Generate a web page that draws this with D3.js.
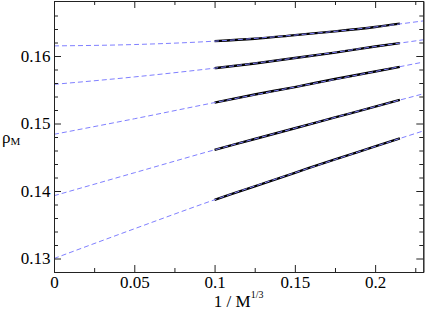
<!DOCTYPE html>
<html>
<head>
<meta charset="utf-8">
<script src="https://cdn.jsdelivr.net/npm/d3@7"></script>
<style>
body{margin:0;background:#fff;}
</style>
</head>
<body>
<div id="chart"></div>
<script>
// fit curves (dashed), sampled along 1/M^(1/3)
var fitX=[0,0.05,0.1,0.15,0.2,0.23];
var fit1=[0.1615,0.1617,0.1622,0.1631,0.1643,0.1652];
var fit2=[0.1558,0.1569,0.1582,0.1597,0.1614,0.1624];
var fit3=[0.1484,0.1507,0.1531,0.1554,0.1577,0.1591];
var fit4=[0.1393,0.1427,0.1461,0.1493,0.1525,0.1544];
var fit5=[0.1300,0.1344,0.1387,0.1427,0.1466,0.1489];

// simulation data (black), M from 1000 down to 100
var dataX=[0.1,0.125,0.15,0.175,0.2,0.2154];
var data1=[0.1622,0.16255,0.1631,0.16365,0.1643,0.1648];
var data2=[0.1582,0.1589,0.1597,0.1605,0.1614,0.1619];
var data3=[0.1531,0.1543,0.1554,0.1566,0.1577,0.1584];
var data4=[0.1461,0.1477,0.1493,0.1509,0.1525,0.1535];
var data5=[0.1387,0.1407,0.1427,0.1447,0.1466,0.1478];

var xTicks=[0,0.05,0.1,0.15,0.2];
var xMinor=[0.025,0.075,0.125,0.175,0.225];
var yTicks=[0.13,0.14,0.15,0.16];
var yMinor=[0.128,0.132,0.134,0.136,0.138,0.142,0.144,0.146,0.148,0.152,0.154,0.156,0.158,0.162,0.164,0.166];

var width=425,height=310;
var mLeft=54,mRight=423.3,mTop=1,mBottom=272;
var serif="'Liberation Serif', 'Times New Roman', Times, serif";

var x=d3.scaleLinear().domain([0,0.23]).range([mLeft,mRight]);
var y=d3.scaleLinear().domain([0.128,0.16815]).range([mBottom,mTop]);

var svg=d3.select('#chart').append('svg')
    .attr('width',width)
    .attr('height',height)
    .style('font-family',serif);

var fits=[fit1,fit2,fit3,fit4,fit5];
var datas=[data1,data2,data3,data4,data5];

var line=d3.line()
    .x(function(d){return x(d[0]);})
    .y(function(d){return y(d[1]);})
    .curve(d3.curveMonotoneX);

//DATA----------------------------------------------------------------
svg.selectAll('path.data').data(datas)
    .enter().append('path')
    .attr('class','data')
    .attr('d',function(d){
        return line(dataX.map(function(v,i){return [v,d[i]];}));
    })
    .style('fill','none')
    .style('stroke','#000')
    .style('stroke-width',2.4);

svg.selectAll('path.fit').data(fits)
    .enter().append('path')
    .attr('class','fit')
    .attr('d',function(d){
        return line(fitX.map(function(v,i){return [v,d[i]];}));
    })
    .style('fill','none')
    .style('stroke','#8080ff')
    .style('stroke-width',1)
    .style('stroke-dasharray','5,3');

//AXES----------------------------------------------------------------
function styleAxis(g){
    g.attr('font-family',null).attr('font-size',null);
    g.selectAll('path,line').style('stroke','#222').style('stroke-width',1);
    g.selectAll('text').style('font-size','17px').style('font-family',serif).style('fill','#000');
}

svg.append('g').attr('transform','translate(0,'+mBottom+')')
    .call(d3.axisBottom(x).tickValues(xTicks).tickSizeInner(-7).tickSizeOuter(0).tickPadding(4)
        .tickFormat(function(d){return d===0?'0':String(d);}))
    .call(styleAxis);
svg.append('g').attr('transform','translate(0,'+mBottom+')')
    .call(d3.axisBottom(x).tickValues(xMinor).tickSizeInner(-4).tickSizeOuter(0).tickFormat(''))
    .call(styleAxis);
svg.append('g').attr('transform','translate(0,'+mTop+')')
    .call(d3.axisTop(x).tickValues(xTicks).tickSizeInner(-7).tickSizeOuter(0).tickFormat(''))
    .call(styleAxis);
svg.append('g').attr('transform','translate(0,'+mTop+')')
    .call(d3.axisTop(x).tickValues(xMinor).tickSizeInner(-4).tickSizeOuter(0).tickFormat(''))
    .call(styleAxis);

svg.append('g').attr('transform','translate('+mLeft+',0)')
    .call(d3.axisLeft(y).tickValues(yTicks).tickSizeInner(-7).tickSizeOuter(0).tickPadding(3.5)
        .tickFormat(function(d){return String(d);}))
    .call(styleAxis);
svg.append('g').attr('transform','translate('+mLeft+',0)')
    .call(d3.axisLeft(y).tickValues(yMinor).tickSizeInner(-4).tickSizeOuter(0).tickFormat(''))
    .call(styleAxis);
svg.append('g').attr('transform','translate('+mRight+',0)')
    .call(d3.axisRight(y).tickValues(yTicks).tickSizeInner(-7).tickSizeOuter(0).tickFormat(''))
    .call(styleAxis);
svg.append('g').attr('transform','translate('+mRight+',0)')
    .call(d3.axisRight(y).tickValues(yMinor).tickSizeInner(-4).tickSizeOuter(0).tickFormat(''))
    .call(styleAxis);

//LABELS----------------------------------------------------------------
var xl=svg.append('text')
    .attr('x',(mLeft+mRight)/2)
    .attr('y',307)
    .attr('text-anchor','middle')
    .style('font-family',serif)
    .style('font-size','17px');
xl.append('tspan').text('1 / M');
xl.append('tspan').attr('dy',-9).style('font-size','10px').text('1/3');

var yl=svg.append('text')
    .attr('x',2)
    .attr('y',143)
    .style('font-family',serif)
    .style('font-size','17px');
yl.append('tspan').text('ρ');
yl.append('tspan').attr('dy',2).style('font-size','11px').text('M');
</script>
</body>
</html>
